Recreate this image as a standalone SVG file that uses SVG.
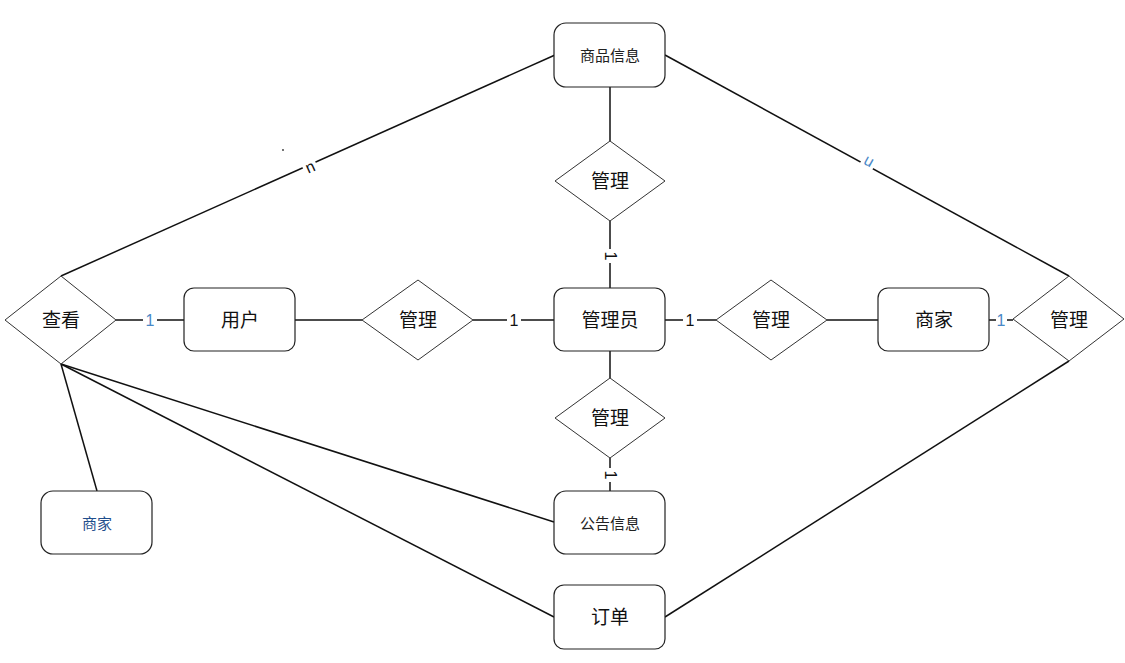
<svg xmlns="http://www.w3.org/2000/svg" width="1125" height="663" viewBox="0 0 1125 663">
<style>
.box{fill:#fff;stroke:#222;stroke-width:1.2}
.dia{fill:#fff;stroke:#333;stroke-width:1}
.t{font-family:"Noto Sans CJK SC","Noto Sans",sans-serif;font-size:19px;fill:#111;text-anchor:middle;dominant-baseline:central}
.ts{font-family:"Noto Sans CJK SC","Noto Sans",sans-serif;font-size:15px;fill:#222;text-anchor:middle;dominant-baseline:central}
.lab{font-family:"Liberation Sans",sans-serif;font-size:16px;text-anchor:middle;dominant-baseline:central}
.bl{fill:#4a88c7}
.bk{fill:#111}
.ln{stroke:#111;stroke-width:1.5;fill:none}
.bg{fill:#fff}
</style>
<rect width="1125" height="663" fill="#fff"/>
<g id="connectors">
<line class="ln" x1="555" y1="55" x2="61" y2="276"/>
<line class="ln" x1="665" y1="55" x2="1069" y2="276"/>
<line class="ln" x1="610" y1="87" x2="610" y2="141"/>
<line class="ln" x1="610" y1="221" x2="610" y2="288"/>
<line class="ln" x1="116" y1="320" x2="184" y2="320"/>
<line class="ln" x1="295" y1="320" x2="362" y2="320"/>
<line class="ln" x1="473" y1="320" x2="554" y2="320"/>
<line class="ln" x1="665" y1="320" x2="716" y2="320"/>
<line class="ln" x1="827" y1="320" x2="878" y2="320"/>
<line class="ln" x1="989" y1="320" x2="1013" y2="320"/>
<line class="ln" x1="610" y1="351" x2="610" y2="378"/>
<line class="ln" x1="610" y1="458" x2="610" y2="491"/>
<line class="ln" x1="61" y1="364" x2="97" y2="491"/>
<line class="ln" x1="61" y1="364" x2="554" y2="522"/>
<line class="ln" x1="61" y1="364" x2="554" y2="617"/>
<line class="ln" x1="1069" y1="361" x2="665" y2="617"/>
<g>
<rect class="bg" x="303" y="160" width="14" height="15" transform="rotate(-24 310 167)"/>
<text class="lab bk" x="310" y="167" transform="rotate(-24 310 167)">n</text>
<rect class="bg" x="861" y="156" width="14" height="15" transform="rotate(-151 868 163)"/>
<text class="lab bl" x="868" y="163" transform="rotate(-151 868 163)">n</text>
<rect class="bg" x="603" y="248" width="14" height="16" transform="rotate(90 610 256)"/>
<text class="lab bk" x="610" y="256" transform="rotate(90 610 256)">1</text>
<rect class="bg" x="603" y="467" width="14" height="16" transform="rotate(90 610 475)"/>
<text class="lab bk" x="610" y="475" transform="rotate(90 610 475)">1</text>
<rect class="bg" x="143" y="312" width="14" height="16"/>
<text class="lab bl" x="150" y="320">1</text>
<rect class="bg" x="507" y="312" width="14" height="16"/>
<text class="lab bk" x="514" y="320">1</text>
<rect class="bg" x="683" y="312" width="14" height="16"/>
<text class="lab bk" x="690" y="320">1</text>
<rect class="bg" x="996" y="312" width="11" height="16"/>
<text class="lab bl" x="1001" y="320">1</text>
</g>
<circle cx="283" cy="150" r="0.9" fill="#333"/>
</g>
<g id="n-shangpin"><rect class="box" x="554" y="23" width="111" height="64" rx="12"/><text class="ts" x="610" y="54">商品信息</text></g>
<g id="n-guanli-top"><polygon class="dia" points="610,141 665,181 610,221 555,181"/><text class="t" x="610" y="179">管理</text></g>
<g id="n-guanliyuan"><rect class="box" x="554" y="288" width="111" height="63" rx="10"/><text class="t" x="610" y="318">管理员</text></g>
<g id="n-guanli-bottom"><polygon class="dia" points="610,378 665,418 610,458 555,418"/><text class="t" x="610" y="416">管理</text></g>
<g id="n-gonggao"><rect class="box" x="554" y="491" width="111" height="63" rx="12"/><text class="ts" x="610" y="522">公告信息</text></g>
<g id="n-dingdan"><rect class="box" x="554" y="585" width="111" height="64" rx="10"/><text class="t" x="610" y="615">订单</text></g>
<g id="n-yonghu"><rect class="box" x="184" y="288" width="111" height="63" rx="10"/><text class="t" x="240" y="318">用户</text></g>
<g id="n-guanli-left"><polygon class="dia" points="418,280 473,320 418,360 362,320"/><text class="t" x="418" y="318">管理</text></g>
<g id="n-guanli-right"><polygon class="dia" points="771,280 827,320 771,360 716,320"/><text class="t" x="771" y="318">管理</text></g>
<g id="n-shangjia"><rect class="box" x="878" y="288" width="111" height="63" rx="10"/><text class="t" x="934" y="318">商家</text></g>
<g id="n-guanli-far"><polygon class="dia" points="1069,276 1124,319 1069,361 1013,319"/><text class="t" x="1069" y="318">管理</text></g>
<g id="n-chakan"><polygon class="dia" points="61,276 116,320 61,364 5,320"/><text class="t" x="61" y="318">查看</text></g>
<g id="n-shangjia2"><rect class="box" x="41" y="491" width="111" height="63" rx="12"/><text class="ts" x="97" y="522" style="fill:#1f4e8c">商家</text></g>
</svg>
